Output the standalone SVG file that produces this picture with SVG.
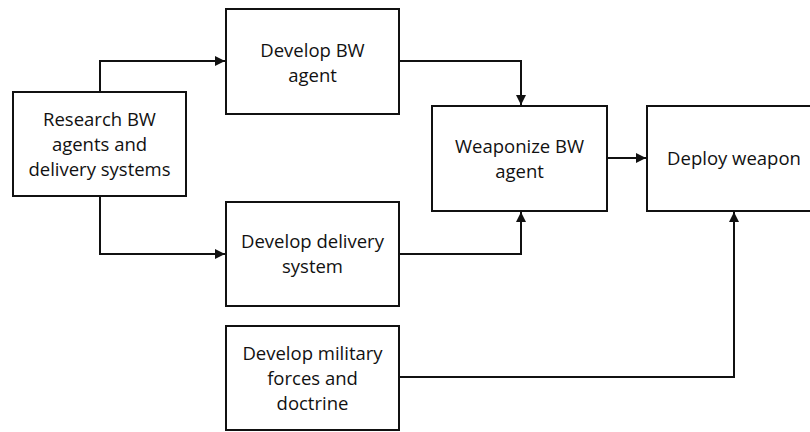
<svg xmlns="http://www.w3.org/2000/svg" width="810" height="432" viewBox="0 0 810 432">
  <style>
    .box { fill: #fff; stroke: #111; stroke-width: 2; }
    .lbl { font-family: "Open Sans", "Noto Sans", sans-serif; font-size: 18.5px; fill: #111; text-anchor: middle; }
    .wire { fill: none; stroke: #111; stroke-width: 2; }
  </style>
  <defs>
    <marker id="head" viewBox="0 0 10 10" refX="10" refY="5" markerWidth="5" markerHeight="5" orient="auto" markerUnits="strokeWidth">
      <path d="M0,0 L10,5 L0,10 z" fill="#111"/>
    </marker>
  </defs>
  <rect width="810" height="432" fill="#fff"/>

  <g id="connectors">
    <path class="wire" d="M100,92 V61 H225" marker-end="url(#head)"/>
    <path class="wire" d="M100,196 V254 H225" marker-end="url(#head)"/>
    <path class="wire" d="M399,61 H521 V105" marker-end="url(#head)"/>
    <path class="wire" d="M399,254 H521 V212" marker-end="url(#head)"/>
    <path class="wire" d="M607,158 H646" marker-end="url(#head)"/>
    <path class="wire" d="M399,377 H734 V212" marker-end="url(#head)"/>
  </g>

  <g id="research">
    <rect class="box" x="13" y="92" width="173" height="104"/>
    <text class="lbl" x="99.5" y="126">Research BW</text>
    <text class="lbl" x="99.5" y="151">agents and</text>
    <text class="lbl" x="99.5" y="176">delivery systems</text>
  </g>

  <g id="develop-agent">
    <rect class="box" x="226" y="9" width="173" height="105"/>
    <text class="lbl" x="312.5" y="57">Develop BW</text>
    <text class="lbl" x="312.5" y="82">agent</text>
  </g>

  <g id="develop-delivery">
    <rect class="box" x="226" y="202" width="173" height="104"/>
    <text class="lbl" x="312.5" y="248">Develop delivery</text>
    <text class="lbl" x="312.5" y="273">system</text>
  </g>

  <g id="develop-forces">
    <rect class="box" x="226" y="326" width="173" height="104"/>
    <text class="lbl" x="312.5" y="360">Develop military</text>
    <text class="lbl" x="312.5" y="385">forces and</text>
    <text class="lbl" x="312.5" y="410">doctrine</text>
  </g>

  <g id="weaponize">
    <rect class="box" x="432" y="106" width="175" height="105"/>
    <text class="lbl" x="519.5" y="153">Weaponize BW</text>
    <text class="lbl" x="519.5" y="178">agent</text>
  </g>

  <g id="deploy">
    <rect class="box" x="647" y="106" width="174" height="105"/>
    <text class="lbl" x="734" y="165">Deploy weapon</text>
  </g>
</svg>
